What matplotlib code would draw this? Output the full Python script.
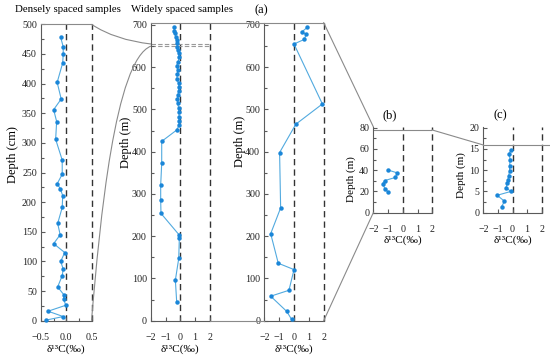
import matplotlib
matplotlib.use('Agg')
import matplotlib.pyplot as plt
from matplotlib.path import Path
from matplotlib.patches import PathPatch
from matplotlib.lines import Line2D
from matplotlib.ticker import MultipleLocator
from matplotlib.transforms import ScaledTranslation

# densely spaced samples (depth in cm)
dense_depth = [478, 462, 450, 435, 402, 374, 356, 336, 306, 271, 247, 231, 223, 211,
               191, 164, 145, 130, 115, 100, 87, 76, 57, 44, 36, 26, 16, 7, 1]
dense_d13c = [-0.11, -0.06, -0.06, -0.07, -0.18, -0.10, -0.25, -0.19, -0.21, -0.08,
              -0.08, -0.18, -0.12, -0.07, -0.08, -0.17, -0.12, -0.25, -0.03, -0.11,
              -0.06, -0.08, -0.17, -0.05, -0.05, -0.01, -0.36, -0.06, -0.40]

# widely spaced samples (depth in m)
wide_depth = [694.5, 686.6, 680.3, 672.4, 664.5, 658.2, 648.7, 640.8, 632.9, 623.4,
              613.2, 603.7, 593.4, 583.9, 572.0, 561.8, 552.4, 544.5, 534.2, 524.0,
              514.5, 504.2, 493.2, 482.9, 473.4, 463.2, 451.3,
              424.5, 372.4, 321.0, 285.5, 254.0, 202.6, 194.7, 147.4, 96.0, 44.8]
wide_d13c = [-0.42, -0.40, -0.36, -0.33, -0.26, -0.25, -0.20, -0.16, -0.12, -0.10,
             -0.13, -0.26, -0.16, -0.20, -0.24, -0.12, -0.10, -0.12, -0.16, -0.20,
             -0.18, -0.12, -0.10, -0.08, -0.10, -0.08, -0.25,
             -1.27, -1.27, -1.34, -1.34, -1.32, -0.07, -0.07, -0.11, -0.34, -0.25]

# section (a)
a_depth = [694.5, 684, 677.5, 666, 655, 513, 465, 398, 267, 206, 136, 121, 72, 58, 22, 3]
a_d13c = [0.90, 0.54, 0.81, 0.70, 0.0, 1.91, 0.12, -0.97, -0.90, -1.57, -1.06, 0.0,
          -0.34, -1.57, -0.49, -0.16]

# section (b)
b_depth = [40.3, 37.5, 33.2, 30.3, 27.5, 22.7, 19.4]
b_d13c = [-1.02, -0.38, -0.50, -1.22, -1.36, -1.22, -1.00]

# section (c)
c_depth = [14.8, 13.9, 12.5, 11.0, 9.8, 8.6, 7.6, 6.9, 5.9, 5.0, 4.1, 2.7, 1.4]
c_d13c = [-0.07, -0.24, -0.16, -0.20, -0.20, -0.27, -0.32, -0.37, -0.43, -0.12,
          -1.05, -0.55, -0.75]

W, H = 550, 360
DOT = '#1a86d8'
LINE = '#52aadf'
GREY = '#8a8a8a'
AXC = '#5a5a5a'

plt.rcParams['font.family'] = ['Liberation Serif', 'DejaVu Serif']

fig = plt.figure(figsize=(5.5, 3.6), dpi=100)


def fx(x):
    return x / W


def fy(y):
    return 1 - y / H


def make_axes(l, t, r, b, xlim, ylim, xstep, xminor, ystep, yminor, zero_up):
    ax = fig.add_axes([fx(l), fy(b), (r - l) / W, (b - t) / H])
    ax.set_xlim(*xlim)
    ax.set_ylim(*ylim)
    ax.patch.set_alpha(0)
    for s in ['top', 'right']:
        ax.spines[s].set_visible(False)
    for s in ['left', 'bottom']:
        ax.spines[s].set_color(AXC)
        ax.spines[s].set_linewidth(0.8)
    ax.xaxis.set_major_locator(MultipleLocator(xstep))
    if xminor:
        ax.xaxis.set_minor_locator(MultipleLocator(xminor))
    ax.yaxis.set_major_locator(MultipleLocator(ystep))
    ax.yaxis.set_minor_locator(MultipleLocator(yminor))
    ax.tick_params(which='both', direction='in', color=AXC, width=0.8,
                   labelsize=7.2, labelcolor='#222222')
    ax.tick_params(which='major', length=3)
    ax.tick_params(which='minor', length=2)
    ax.tick_params(axis='x', pad=8.5)
    ax.tick_params(axis='y', pad=3)
    for xv in [0, xlim[1]]:
        ax.axvline(xv, color='#333333', lw=1.0, dashes=(4.5, 3), clip_on=False, zorder=1)
    if zero_up:
        fig.canvas.draw()
        t0 = ax.yaxis.get_major_ticks()[0]
        t0.label1.set_transform(t0.label1.get_transform() +
                                ScaledTranslation(0, zero_up / 100, fig.dpi_scale_trans))
    return ax


def series(ax, x, d):
    ax.plot(x, d, color=LINE, lw=0.8, zorder=2, clip_on=False)
    ax.plot(x, d, 'o', color=DOT, ms=3.2, mec='none', zorder=3, clip_on=False)


ax1 = make_axes(41, 24.3, 91.5, 320.7, (-0.5, 0.5), (0, 500), 0.5, 0.25, 50, 25, 0)
series(ax1, dense_d13c, dense_depth)

ax2 = make_axes(151, 22.7, 209.7, 320.7, (-2, 2), (0, 705.4), 1, None, 100, 50, 6.5)
series(ax2, wide_d13c, wide_depth)
for dv in [650, 655]:
    ax2.axhline(dv, color='#9a9a9a', lw=0.8, dashes=(4, 2), zorder=1)

ax3 = make_axes(264.3, 22.7, 323.7, 320.7, (-2, 2), (0, 705.4), 1, None, 100, 50, 6.5)
series(ax3, a_d13c, a_depth)

ax4 = make_axes(373.3, 126.7, 432.3, 212.7, (-2, 2), (0, 81), 1, None, 20, 10, 4)
series(ax4, b_d13c, b_depth)
ax4.axhline(78, color=GREY, lw=0.8, zorder=1)

ax5 = make_axes(483.3, 126.7, 541.7, 212.7, (-2, 2), (0, 20.25), 1, None, 5, 2.5, 4)
series(ax5, c_d13c, c_depth)

# connecting frame lines (figure pixel positions)
segments = [
    [(151, 22.7), (323.7, 22.7)],
    [(209.7, 320.7), (264.3, 320.7)],
    [(41, 24.3), (91.5, 24.3)],
    [(323.7, 22.7), (373.3, 126.7)],
    [(323.7, 320.7), (373.3, 212.7)],
    [(432.3, 130), (483.3, 145)],
    [(483.3, 145), (549, 145)],
]
for seg in segments:
    fig.add_artist(Line2D([fx(p[0]) for p in seg], [fy(p[1]) for p in seg],
                          color=GREY, lw=0.8))

curves = [
    ([(91.5, 24.3), (115, 40), (151, 44.0)], [Path.MOVETO, Path.CURVE3, Path.CURVE3]),
    ([(91.5, 320.7), (100, 220), (115, 60), (151, 46.1)],
     [Path.MOVETO, Path.CURVE4, Path.CURVE4, Path.CURVE4]),
]
for pts, codes in curves:
    path = Path([(fx(x), fy(y)) for x, y in pts], codes)
    fig.add_artist(PathPatch(path, fc='none', ec=GREY, lw=0.8,
                             transform=fig.transFigure))

# texts
fig.text(fx(68), fy(10), 'Densely spaced samples', ha='center', va='center', fontsize=7.8)
fig.text(fx(182), fy(10), 'Widely spaced samples', ha='center', va='center', fontsize=7.8)
fig.text(fx(261), fy(10), '(a)', ha='center', va='center', fontsize=9)
fig.text(fx(390), fy(115), '(b)', ha='center', va='center', fontsize=9)
fig.text(fx(500), fy(115), '(c)', ha='center', va='center', fontsize=9)

ylabels = [(13, 155, 'Depth (cm)', 9), (126, 142, 'Depth (m)', 9),
           (240, 141, 'Depth (m)', 9), (351, 179, 'Depth (m)', 8),
           (461, 175, 'Depth (m)', 8)]
for x, y, s, fs in ylabels:
    fig.text(fx(x), fy(y), s, rotation=90, ha='center', va='center', fontsize=fs)

xlab = 'δ¹³C(‰)'
for x, y in [(66, 349), (180, 349), (294, 349), (403, 240), (512.5, 240)]:
    fig.text(fx(x), fy(y), xlab, ha='center', va='center', fontsize=8.2)

fig.savefig('out.png', dpi=100)
